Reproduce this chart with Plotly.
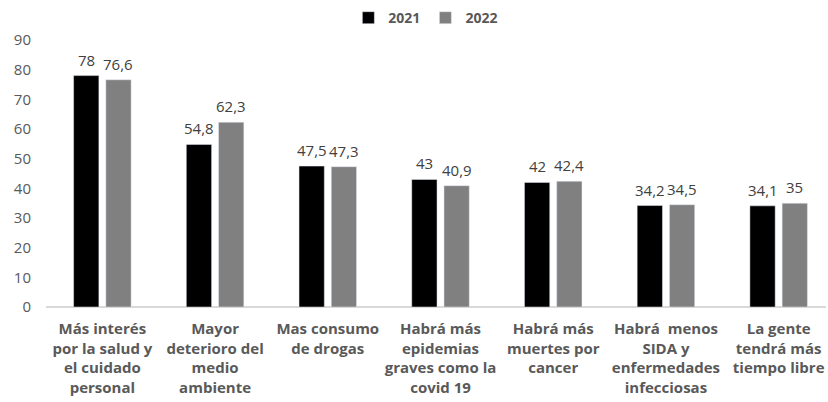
import plotly.graph_objects as go

categories = [
    "Más interés<br>por la salud y<br>el cuidado<br>personal",
    "Mayor<br>deterioro del<br>medio<br>ambiente",
    "Mas consumo<br>de drogas",
    "Habrá más<br>epidemias<br>graves como la<br>covid 19",
    "Habrá más<br>muertes por<br>cancer",
    "Habrá  menos<br>SIDA y<br>enfermedades<br>infecciosas",
    "La gente<br>tendrá más<br>tiempo libre",
]
values_2021 = [78, 54.8, 47.5, 43, 42, 34.2, 34.1]
values_2022 = [76.6, 62.3, 47.3, 40.9, 42.4, 34.5, 35]
y_ticks = [0, 10, 20, 30, 40, 50, 60, 70, 80, 90]


def fmt(v):
    return str(v).replace(".", ",")


FONT = "Open Sans, sans-serif"
BARGAP = 0.428
BARGROUPGAP = 0.215
x = list(range(len(categories)))
slot = (1 - BARGAP) / 2  # width of each series slot in category units

fig = go.Figure()
fig.add_trace(go.Bar(x=x, y=values_2021, name="2021", marker_color="#000000"))
fig.add_trace(go.Bar(x=x, y=values_2022, name="2022", marker_color="#808080"))

annotations = []
for series, sign in ((values_2021, -1), (values_2022, 1)):
    for i, v in enumerate(series):
        annotations.append(dict(
            x=i + sign * slot / 2, y=v, xref="x", yref="y",
            text=fmt(v), showarrow=False, yanchor="bottom", yshift=4,
            font=dict(family=FONT, size=15, color="#404040"),
        ))

fig.update_layout(
    width=828, height=402,
    margin=dict(l=46, r=2, t=40, b=95),
    paper_bgcolor="white", plot_bgcolor="white",
    barmode="group", bargap=BARGAP, bargroupgap=BARGROUPGAP,
    font=dict(family=FONT, size=15, color="#595959"),
    showlegend=True,
    annotations=annotations,
    legend=dict(
        orientation="h", x=0.487, xanchor="center",
        yref="container", y=0.955, yanchor="middle",
        font=dict(family=FONT, size=14, color="#595959", weight="bold"),
        itemwidth=30, tracegroupgap=0,
    ),
    xaxis=dict(
        tickmode="array", tickvals=x,
        ticktext=["<b>" + c.replace("<br>", "</b><br><b>") + "</b>" for c in categories],
        range=[-0.5, 6.42], showgrid=False, zeroline=False,
        showline=False, ticks="", automargin=False, tickangle=0,
        ticklabeloverflow="allow",
        tickfont=dict(family=FONT, size=15, color="#595959"),
        ticklabelstandoff=11,
    ),
    yaxis=dict(
        range=[0, 90], tickvals=y_ticks, showgrid=False,
        zeroline=True, zerolinecolor="#d9d9d9", zerolinewidth=1.5,
        showline=False, ticks="", automargin=False,
        tickfont=dict(family=FONT, size=15, color="#595959"),
        ticklabelstandoff=14,
    ),
)

fig.write_html(
    "out.html",
    config={"displayModeBar": False},
    post_script="document.body.style.margin='0';document.body.style.padding='0';",
)
